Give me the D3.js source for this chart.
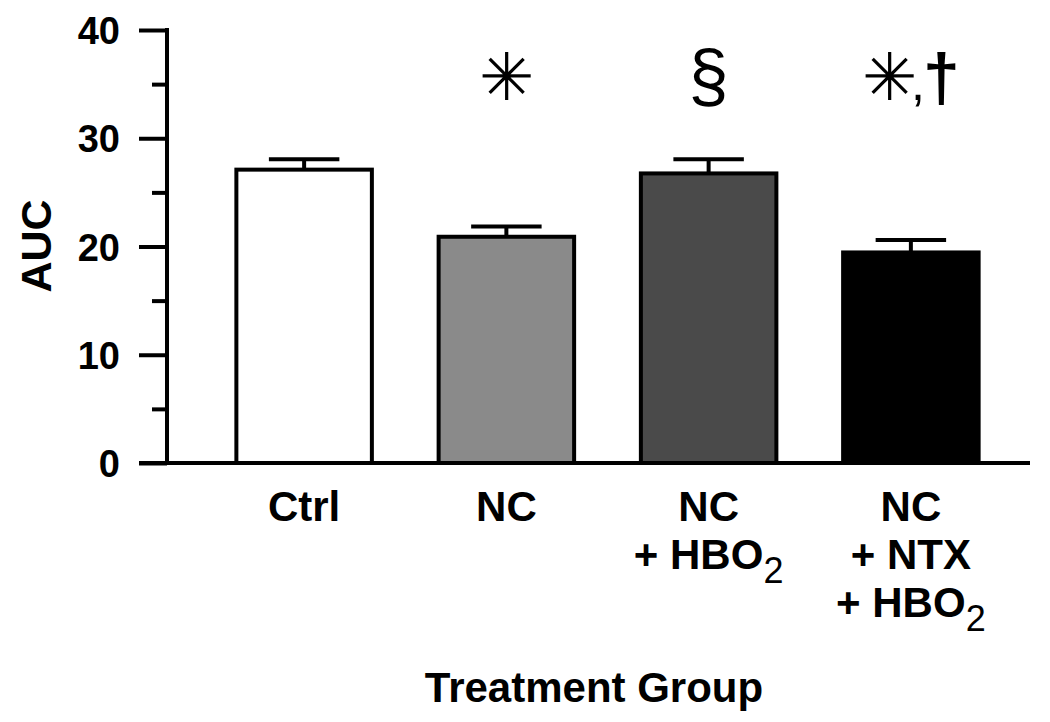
<!DOCTYPE html>
<html>
<head>
<meta charset="utf-8">
<title>AUC by treatment group</title>
<script src="https://cdn.jsdelivr.net/npm/d3@7"></script>
<style>
  body { margin: 0; background: #fff; }
  text { font-family: "Liberation Sans", Arial, sans-serif; fill: #000; }
</style>
</head>
<body>
<svg id="chart" width="1050" height="722"></svg>
<script>
// data
var groups = ["Ctrl", "NC", "NC + HBO2", "NC + NTX + HBO2"];
var labelLines = [["Ctrl"], ["NC"], ["NC", "+ HBO_2"], ["NC", "+ NTX", "+ HBO_2"]];
var means = [27.1, 20.9, 26.75, 19.45];
var sems = [0.95, 0.95, 1.3, 1.15];
var marks = ["", "\u2733", "\u00A7", "\u2733,\u2020"];
var fills = ["#ffffff", "#8a8a8a", "#4a4a4a", "#000000"];
var yTicks = [0, 10, 20, 30, 40];
var yMinor = [5, 15, 25, 35];

var svg = d3.select("#chart");
var axisX = 167, y0 = 463, yTop = 30;

var y = d3.scaleLinear().domain([0, 40]).range([y0, yTop]);
var x = d3.scaleBand().domain(groups).range([203, 1012]).paddingInner(0.33).paddingOuter(0.165);

// y axis, major + minor ticks
svg.append("g")
  .attr("transform", "translate(" + axisX + ",0)")
  .call(d3.axisLeft(y).tickValues(yMinor).tickSize(15).tickFormat(""))
  .call(function(g){ g.select(".domain").remove(); })
  .selectAll("line").attr("stroke", "#000").attr("stroke-width", 4);

var ya = svg.append("g")
  .attr("transform", "translate(" + axisX + ",0)")
  .call(d3.axisLeft(y).tickValues(yTicks).tickSize(28).tickPadding(19));
ya.select(".domain").remove();
ya.selectAll("line").attr("stroke", "#000").attr("stroke-width", 4);
ya.selectAll("text")
  .attr("font-size", 38).attr("font-weight", "bold")
  .attr("font-family", "'Liberation Sans', Arial, sans-serif")
  .attr("fill", "#000")
  .attr("dy", "0.36em");

svg.append("line")
  .attr("x1", axisX).attr("x2", axisX)
  .attr("y1", y(40) - 2).attr("y2", y0)
  .attr("stroke", "#000").attr("stroke-width", 4);

// bars
svg.selectAll(".bar").data(groups).enter()
  .append("rect")
  .attr("class", "bar")
  .attr("x", function(d){ return x(d); })
  .attr("width", x.bandwidth())
  .attr("y", function(d, i){ return y(means[i]); })
  .attr("height", function(d, i){ return y(0) - y(means[i]); })
  .attr("fill", function(d, i){ return fills[i]; })
  .attr("stroke", "#000")
  .attr("stroke-width", 4);

// error bars (upper only)
var capW = x.bandwidth() * 0.52;
var eb = svg.selectAll(".err").data(groups).enter().append("g").attr("class", "err");
eb.append("line")
  .attr("x1", function(d){ return x(d) + x.bandwidth() / 2; })
  .attr("x2", function(d){ return x(d) + x.bandwidth() / 2; })
  .attr("y1", function(d, i){ return y(means[i]); })
  .attr("y2", function(d, i){ return y(means[i] + sems[i]); })
  .attr("stroke", "#000").attr("stroke-width", 4);
eb.append("line")
  .attr("x1", function(d){ return x(d) + x.bandwidth() / 2 - capW / 2; })
  .attr("x2", function(d){ return x(d) + x.bandwidth() / 2 + capW / 2; })
  .attr("y1", function(d, i){ return y(means[i] + sems[i]); })
  .attr("y2", function(d, i){ return y(means[i] + sems[i]); })
  .attr("stroke", "#000").attr("stroke-width", 4);

// x axis baseline
svg.append("line")
  .attr("x1", 139).attr("x2", 1030)
  .attr("y1", y0).attr("y2", y0)
  .attr("stroke", "#000").attr("stroke-width", 4);

// significance marks
var mk = svg.selectAll(".mark").data(groups).enter()
  .append("text")
  .attr("class", "mark")
  .attr("x", function(d){ return x(d) + x.bandwidth() / 2; })
  .attr("y", 100)
  .attr("text-anchor", "middle")
  .attr("font-size", 66)
  .attr("font-family", "'DejaVu Sans', sans-serif");
mk.each(function(d, i){
  var t = d3.select(this);
  marks[i].split(",").forEach(function(s, k){
    if (k > 0) {
      t.append("tspan").attr("dx", -6).attr("font-size", 50).text(",");
      t.append("tspan").attr("dx", -2)
        .attr("font-family", "'Liberation Sans', Arial, sans-serif")
        .attr("font-weight", "bold").attr("font-size", 66).text(s);
    } else {
      t.append("tspan").attr("font-size", s === "\u00A7" ? 72 : 66).text(s);
    }
  });
});

// category labels
var lab = svg.selectAll(".cat").data(groups).enter()
  .append("text")
  .attr("class", "cat")
  .attr("text-anchor", "middle")
  .attr("font-weight", "bold")
  .attr("font-size", 42)
  .attr("transform", function(d){ return "translate(" + (x(d) + x.bandwidth() / 2) + ",521)"; });
lab.each(function(d, i){
  var t = d3.select(this);
  labelLines[i].forEach(function(line, k){
    var parts = line.split("_");
    t.append("tspan").attr("x", 0).attr("y", k * 48).text(parts[0]);
    if (parts[1]) {
      t.append("tspan").attr("font-weight", "normal").attr("font-size", 36)
        .attr("dy", 14).text(parts[1]);
    }
  });
});

// axis titles
svg.append("text")
  .attr("x", 594).attr("y", 702)
  .attr("text-anchor", "middle")
  .attr("font-weight", "bold").attr("font-size", 42)
  .text("Treatment Group");

svg.append("text")
  .attr("transform", "translate(51,246) rotate(-90)")
  .attr("text-anchor", "middle")
  .attr("font-weight", "bold").attr("font-size", 43)
  .text("AUC");
</script>
</body>
</html>
